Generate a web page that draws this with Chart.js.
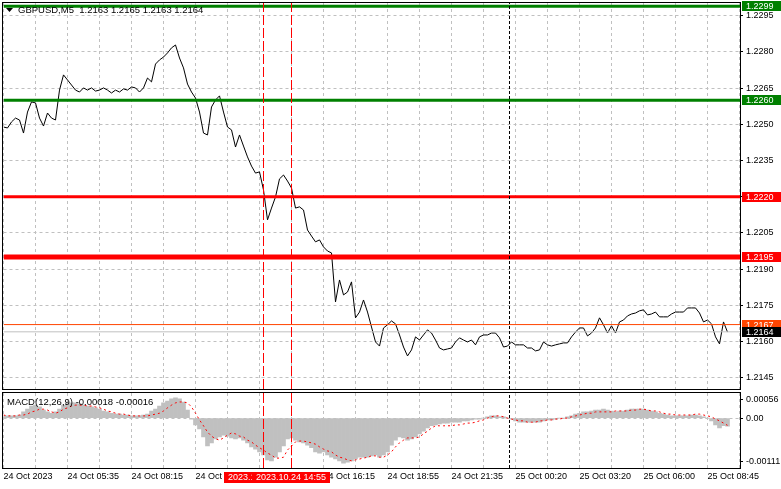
<!DOCTYPE html>
<html>
<head>
<meta charset="utf-8">
<title>GBPUSD,M5</title>
<script src="https://cdn.jsdelivr.net/npm/chart.js@4.4.0/dist/chart.umd.min.js"></script>
<style>
    body { margin: 0; background: #ffffff; }
    #wrap { position: relative; width: 781px; height: 489px; overflow: hidden; }
    #chart_price { position: absolute; left: 0; top: 0; }
    #chart_macd { position: absolute; left: 0; top: 391px; }
</style>
</head>
<body>
<div id="wrap">
    <canvas id="chart_price" width="781" height="391"></canvas>
    <canvas id="chart_macd" width="781" height="98"></canvas>
</div>
<script>
const symbol_title = "GBPUSD,M5  1.2163 1.2165 1.2163 1.2164";
const macd_title = "MACD(12,26,9) -0.00018 -0.00016";

// one label every 16 points, a grid line every 8
const time_labels = ['24 Oct 2023', '24 Oct 05:35', '24 Oct 08:15', '24 Oct 10:55', '24 Oct 13:35', '24 Oct 16:15',
    '24 Oct 18:55', '24 Oct 21:35', '25 Oct 00:20', '25 Oct 03:20', '25 Oct 06:00', '25 Oct 08:45'];
const price_ticks = [1.2295, 1.2280, 1.2265, 1.2250, 1.2235, 1.2220, 1.2205, 1.2190, 1.2175, 1.2160, 1.2145];
const macd_tick_labels = ['0.00056', '0.00', '-0.00111'];

// close every 2nd M5 bar
const close_prices = [
    1.22489, 1.22485, 1.22510, 1.22526, 1.22518, 1.22464, 1.22551, 1.22593, 1.22589, 1.22526,
    1.22493, 1.22547, 1.22526, 1.22518, 1.22642, 1.22705, 1.22684, 1.22663, 1.22642, 1.22634,
    1.22651, 1.22642, 1.22651, 1.22638, 1.22642, 1.22651, 1.22642, 1.22630, 1.22642, 1.22634,
    1.22647, 1.22642, 1.22655, 1.22651, 1.22634, 1.22651, 1.22692, 1.22676, 1.22750, 1.22767,
    1.22779, 1.22796, 1.22817, 1.22829, 1.22775, 1.22734, 1.22667, 1.22634, 1.22609, 1.22551,
    1.22464, 1.22456, 1.22572, 1.22601, 1.22618, 1.22551, 1.22489, 1.22477, 1.22406, 1.22456,
    1.22410, 1.22365, 1.22327, 1.22298, 1.22303, 1.22228, 1.22104, 1.22153, 1.22199, 1.22274,
    1.22290, 1.22265, 1.22236, 1.22153, 1.22158, 1.22145, 1.22062, 1.22037, 1.22013, 1.22021,
    1.21992, 1.21975, 1.21967, 1.21764, 1.21855, 1.21793, 1.21805, 1.21847, 1.21698, 1.21722,
    1.21772, 1.21722, 1.21660, 1.21598, 1.21581, 1.21656, 1.21669, 1.21685, 1.21673, 1.21627,
    1.21577, 1.21540, 1.21565, 1.21619, 1.21606, 1.21627, 1.21648, 1.21635, 1.21606, 1.21573,
    1.21565, 1.21569, 1.21573, 1.21598, 1.21615, 1.21606, 1.21598, 1.21606, 1.21586, 1.21619,
    1.21627, 1.21627, 1.21635, 1.21635, 1.21615, 1.21577, 1.21581, 1.21598, 1.21586, 1.21586,
    1.21586, 1.21573, 1.21573, 1.21561, 1.21565, 1.21598, 1.21586, 1.21581, 1.21586, 1.21590,
    1.21594, 1.21594, 1.21619, 1.21639, 1.21656, 1.21656, 1.21623, 1.21635, 1.21656, 1.21698,
    1.21669, 1.21635, 1.21665, 1.21635, 1.21681, 1.21689, 1.21706, 1.21714, 1.21718, 1.21727,
    1.21731, 1.21710, 1.21714, 1.21722, 1.21702, 1.21702, 1.21702, 1.21714, 1.21722, 1.21722,
    1.21722, 1.21739, 1.21739, 1.21739, 1.21718, 1.21681, 1.21689, 1.21673, 1.21619, 1.21590,
    1.21681, 1.21639
];
const macd_hist = [
    0.00005, 0.00005, 0.00005, 0.00005, 0.00007, 0.00014, 0.00020, 0.00027, 0.00029, 0.00025,
    0.00018, 0.00014, 0.00011, 0.00014, 0.00020, 0.00029, 0.00034, 0.00034, 0.00034, 0.00032,
    0.00029, 0.00027, 0.00025, 0.00023, 0.00020, 0.00016, 0.00014, 0.00011, 0.00009, 0.00009,
    0.00007, 0.00007, 0.00005, 0.00005, 0.00005, 0.00007, 0.00009, 0.00016, 0.00020, 0.00027,
    0.00034, 0.00038, 0.00043, 0.00045, 0.00043, 0.00036, 0.00018, -0.00002, -0.00015, -0.00024,
    -0.00042, -0.00062, -0.00055, -0.00046, -0.00042, -0.00038, -0.00040, -0.00044, -0.00046, -0.00044,
    -0.00049, -0.00055, -0.00064, -0.00069, -0.00075, -0.00082, -0.00093, -0.00095, -0.00087, -0.00075,
    -0.00062, -0.00046, -0.00044, -0.00049, -0.00053, -0.00055, -0.00060, -0.00066, -0.00075, -0.00078,
    -0.00075, -0.00082, -0.00087, -0.00091, -0.00095, -0.00100, -0.00098, -0.00095, -0.00091, -0.00087,
    -0.00087, -0.00087, -0.00084, -0.00082, -0.00087, -0.00082, -0.00075, -0.00060, -0.00049, -0.00042,
    -0.00044, -0.00049, -0.00046, -0.00042, -0.00035, -0.00029, -0.00022, -0.00017, -0.00015, -0.00013,
    -0.00011, -0.00011, -0.00009, -0.00009, -0.00009, -0.00006, -0.00006, -0.00004, -0.00002, -0.00002,
    0.00000, 0.00003, 0.00005, 0.00005, 0.00003, 0.00003, 0.00000, -0.00002, -0.00006, -0.00009,
    -0.00009, -0.00009, -0.00009, -0.00009, -0.00009, -0.00006, -0.00004, -0.00004, -0.00002, 0.00000,
    0.00000, 0.00003, 0.00005, 0.00009, 0.00011, 0.00014, 0.00014, 0.00016, 0.00018, 0.00018,
    0.00020, 0.00018, 0.00016, 0.00014, 0.00016, 0.00016, 0.00018, 0.00020, 0.00020, 0.00020,
    0.00020, 0.00018, 0.00016, 0.00014, 0.00011, 0.00009, 0.00007, 0.00005, 0.00005, 0.00005,
    0.00005, 0.00005, 0.00007, 0.00007, 0.00005, 0.00003, 0.00000, -0.00006, -0.00015, -0.00022,
    -0.00017, -0.00018
];
const macd_signal = [
    0.00007, 0.00005, 0.00005, 0.00005, 0.00007, 0.00007, 0.00009, 0.00014, 0.00016, 0.00020,
    0.00020, 0.00018, 0.00014, 0.00011, 0.00014, 0.00020, 0.00023, 0.00027, 0.00029, 0.00029,
    0.00029, 0.00027, 0.00027, 0.00025, 0.00023, 0.00020, 0.00016, 0.00014, 0.00011, 0.00009,
    0.00009, 0.00007, 0.00005, 0.00005, 0.00005, 0.00005, 0.00005, 0.00007, 0.00009, 0.00011,
    0.00016, 0.00023, 0.00029, 0.00034, 0.00036, 0.00036, 0.00034, 0.00025, 0.00011, -0.00004,
    -0.00017, -0.00031, -0.00040, -0.00046, -0.00049, -0.00044, -0.00038, -0.00033, -0.00035, -0.00040,
    -0.00042, -0.00049, -0.00053, -0.00060, -0.00066, -0.00071, -0.00078, -0.00082, -0.00089, -0.00089,
    -0.00087, -0.00071, -0.00062, -0.00053, -0.00051, -0.00051, -0.00053, -0.00055, -0.00058, -0.00064,
    -0.00069, -0.00073, -0.00075, -0.00082, -0.00087, -0.00089, -0.00093, -0.00095, -0.00093, -0.00091,
    -0.00089, -0.00087, -0.00084, -0.00084, -0.00087, -0.00087, -0.00082, -0.00075, -0.00064, -0.00055,
    -0.00049, -0.00044, -0.00044, -0.00044, -0.00042, -0.00035, -0.00029, -0.00022, -0.00017, -0.00017,
    -0.00017, -0.00017, -0.00017, -0.00015, -0.00015, -0.00013, -0.00011, -0.00011, -0.00009, -0.00006,
    -0.00004, 0.00000, 0.00003, 0.00005, 0.00005, 0.00003, 0.00000, -0.00002, -0.00004, -0.00006,
    -0.00006, -0.00009, -0.00009, -0.00009, -0.00006, -0.00006, -0.00004, -0.00004, -0.00002, -0.00002,
    0.00000, 0.00000, 0.00003, 0.00005, 0.00007, 0.00009, 0.00011, 0.00011, 0.00014, 0.00014,
    0.00014, 0.00014, 0.00014, 0.00016, 0.00016, 0.00016, 0.00016, 0.00018, 0.00018, 0.00020,
    0.00020, 0.00018, 0.00016, 0.00016, 0.00014, 0.00011, 0.00009, 0.00009, 0.00007, 0.00007,
    0.00007, 0.00007, 0.00007, 0.00009, 0.00009, 0.00007, 0.00005, 0.00003, -0.00002, -0.00006,
    -0.00011, -0.00016
];

// horizontal levels: 2 green, 2 red, ask/bid
const level_prices = [1.2299, 1.2260, 1.2220, 1.2195, 1.2167, 1.2164];
const level_colors = ['#008000', '#008000', '#ff0000', '#ff0000', '#ff4500', '#c0c0c0'];
const level_box_colors = ['#008000', '#008000', '#ff0000', '#ff0000', '#ff4500', '#000000'];
const level_widths = [3, 3, 3, 5, 1, 1];

// vertical markers (point index)
const marker_points = [65, 72];
const marker_times = ['2023.10.24 13:45', '2023.10.24 14:55'];
const day_separator = 126.5;

const price_min = 1.21403;
const price_max = 1.23003;
const macd_min = -0.00111;
const macd_max = 0.00056;
const x_max = 184.125;
const font = {family: "'Liberation Sans', Arial, sans-serif", size: 9};
const font_css = "9px 'Liberation Sans', Arial, sans-serif";
const title_css = "9.5px 'Liberation Sans', Arial, sans-serif";

function to_points(values) {
    return values.map((v, i) => ({x: i, y: v}));
}

function vline(at, lo, hi, color, dash) {
    return {
        type: 'line',
        data: [{x: at, y: lo}, {x: at, y: hi}],
        borderColor: color,
        borderWidth: 1,
        borderDash: dash,
        pointRadius: 0
    };
}

function no_pad(axis) {
    axis.paddingTop = 0;
    axis.paddingBottom = 0;
    axis.paddingLeft = 0;
    axis.paddingRight = 0;
}

function x_axis(show_labels) {
    return {
        type: 'linear',
        min: 0,
        max: x_max,
        offset: false,
        afterBuildTicks: (axis) => {
            const t = [];
            for (let v = 0; v <= x_max; v += 8) t.push({value: v});
            axis.ticks = t;
        },
        afterFit: (axis) => {
            axis.height = show_labels ? 21 : 0;
            no_pad(axis);
        },
        grid: {color: '#c0c0c0', drawTicks: false, offset: false},
        border: {display: false, dash: [3, 3]},
        ticks: {
            display: show_labels,
            autoSkip: false,
            maxRotation: 0,
            minRotation: 0,
            align: 'start',
            padding: 3,
            color: '#000000',
            font: font,
            callback: (v) => (v % 16 === 0 ? time_labels[v / 16] : '')
        }
    };
}

const frame_plugin = {
    id: 'frame',
    afterDraw(chart) {
        const a = chart.chartArea;
        const ctx = chart.ctx;
        const l = Math.floor(a.left);
        ctx.save();
        ctx.strokeStyle = '#000000';
        ctx.lineWidth = 1;
        ctx.strokeRect(l - 0.5, a.top - 0.5, a.right - l + 1, a.bottom - a.top + 1);
        ctx.restore();
    }
};

const price_labels_plugin = {
    id: 'price_labels',
    afterDraw(chart) {
        const ctx = chart.ctx;
        const y = chart.scales.y;
        const right = chart.chartArea.right;
        ctx.save();
        ctx.font = font_css;
        ctx.textBaseline = 'middle';
        level_prices.forEach((p, i) => {
            const py = Math.round(y.getPixelForValue(p));
            ctx.fillStyle = level_box_colors[i];
            ctx.fillRect(right + 2, py - 5, chart.width - right - 2, 10);
            ctx.fillStyle = '#ffffff';
            ctx.fillText(p.toFixed(4), right + 6, py + 0.5);
        });
        // header
        ctx.fillStyle = '#000000';
        ctx.beginPath();
        ctx.moveTo(6, 8);
        ctx.lineTo(13, 8);
        ctx.lineTo(9.5, 12);
        ctx.closePath();
        ctx.fill();
        ctx.font = title_css;
        ctx.fillText(symbol_title, 18, 10);
        ctx.restore();
    }
};

const macd_labels_plugin = {
    id: 'macd_labels',
    afterDraw(chart) {
        const ctx = chart.ctx;
        const x = chart.scales.x;
        const bottom = chart.chartArea.bottom;
        ctx.save();
        ctx.textBaseline = 'middle';
        ctx.fillStyle = '#000000';
        ctx.font = title_css;
        ctx.fillText(macd_title, 7, 11);
        ctx.font = font_css;
        marker_points.forEach((m, i) => {
            const px = x.getPixelForValue(m);
            const w = ctx.measureText(marker_times[i]).width + 8;
            ctx.fillStyle = '#ff0000';
            ctx.fillRect(Math.round(px - w / 2), bottom + 4, Math.round(w), 11);
            ctx.fillStyle = '#ffffff';
            ctx.fillText(marker_times[i], Math.round(px - w / 2) + 4, bottom + 10);
        });
        ctx.restore();
    }
};

const price_datasets = [];
marker_points.forEach((m) => price_datasets.push(vline(m, price_min, price_max, '#ff0000', [10, 3])));
price_datasets.push(vline(day_separator, price_min, price_max, '#000000', [3, 2]));
level_prices.forEach((p, i) => {
    price_datasets.push({
        type: 'line',
        data: [{x: 0, y: p}, {x: x_max, y: p}],
        borderColor: level_colors[i],
        borderWidth: level_widths[i],
        pointRadius: 0
    });
});
price_datasets.push({
    type: 'line',
    label: 'GBPUSD',
    data: to_points(close_prices),
    borderColor: '#000000',
    borderWidth: 1,
    pointRadius: 0,
    tension: 0
});

new Chart(document.getElementById('chart_price'), {
    type: 'line',
    data: {datasets: price_datasets},
    options: {
        responsive: false,
        animation: false,
        devicePixelRatio: 1,
        layout: {padding: {left: 3.5, top: 3, right: 0, bottom: 2}},
        plugins: {legend: {display: false}, tooltip: {enabled: false}},
        scales: {
            x: x_axis(false),
            y: {
                position: 'right',
                min: price_min,
                max: price_max,
                afterBuildTicks: (axis) => { axis.ticks = price_ticks.map(v => ({value: v})); },
                afterFit: (axis) => { axis.width = 41; no_pad(axis); },
                grid: {color: '#c0c0c0', tickLength: 3, tickColor: '#000000', tickBorderDash: []},
                border: {display: false, dash: [3, 3]},
                ticks: {color: '#000000', font: font, padding: 3, callback: (v) => v.toFixed(4)}
            }
        }
    },
    plugins: [frame_plugin, price_labels_plugin]
});

const macd_datasets = [];
marker_points.forEach((m) => macd_datasets.push(vline(m, macd_min, macd_max, '#ff0000', [10, 3])));
macd_datasets.push(vline(day_separator, macd_min, macd_max, '#000000', [3, 2]));
macd_datasets.push({
    type: 'line',
    label: 'Signal',
    data: to_points(macd_signal),
    borderColor: '#ff0000',
    borderWidth: 1,
    borderDash: [2, 3],
    pointRadius: 0,
    tension: 0
});
macd_datasets.push({
    type: 'bar',
    label: 'MACD',
    data: to_points(macd_hist),
    backgroundColor: '#c0c0c0',
    borderWidth: 0,
    barPercentage: 1,
    categoryPercentage: 1
});

new Chart(document.getElementById('chart_macd'), {
    type: 'line',
    data: {datasets: macd_datasets},
    options: {
        responsive: false,
        animation: false,
        devicePixelRatio: 1,
        layout: {padding: {left: 3.5, top: 2, right: 0, bottom: 0}},
        plugins: {legend: {display: false}, tooltip: {enabled: false}},
        scales: {
            x: x_axis(true),
            y: {
                position: 'right',
                min: macd_min,
                max: macd_max,
                afterBuildTicks: (axis) => {
                    // labels sit a little inside the panel edges
                    const inset = (macd_max - macd_min) * 0.09;
                    axis.ticks = [{value: macd_max - inset}, {value: 0}, {value: macd_min + inset}];
                },
                afterFit: (axis) => { axis.width = 41; no_pad(axis); },
                grid: {
                    color: (c) => (c.tick && c.tick.value === 0 ? '#c0c0c0' : 'rgba(0,0,0,0)'),
                    tickLength: 3,
                    tickColor: '#000000',
                    tickBorderDash: []
                },
                border: {display: false, dash: [3, 3]},
                ticks: {color: '#000000', font: font, padding: 3, callback: (v, i) => macd_tick_labels[i]}
            }
        }
    },
    plugins: [frame_plugin, macd_labels_plugin]
});
</script>
</body>
</html>
